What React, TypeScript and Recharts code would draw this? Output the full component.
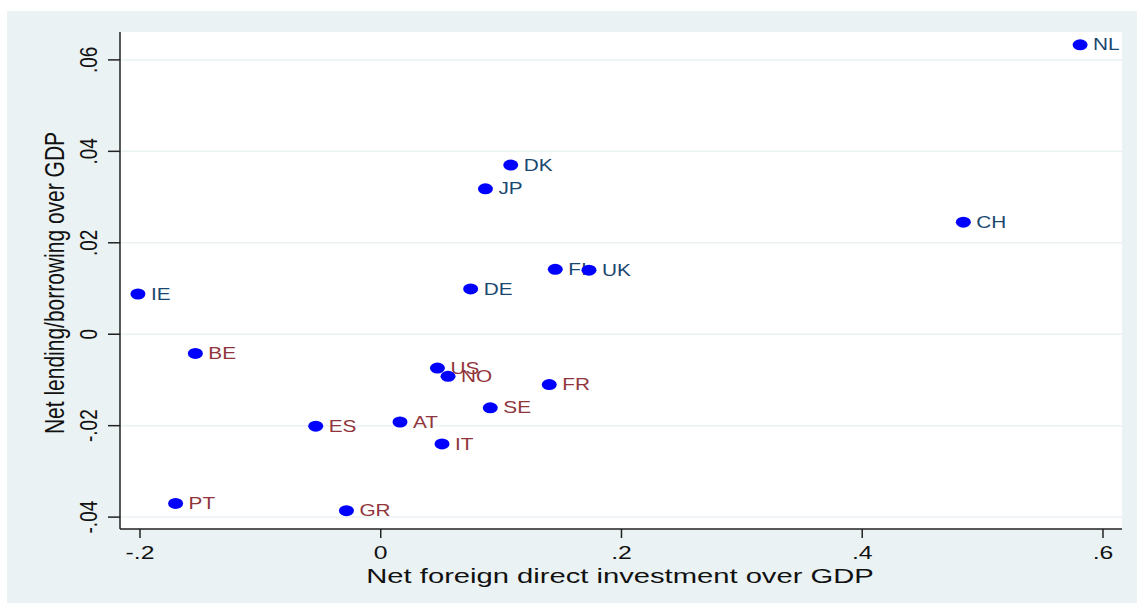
import { ScatterChart, Scatter, XAxis, YAxis, CartesianGrid } from "recharts";

const countries = ["NL", "DK", "JP", "CH", "FI", "UK", "IE", "DE", "BE", "US", "NO", "FR", "SE", "AT", "ES", "IT", "PT", "GR"];
const fdi = [0.581, 0.108, 0.087, 0.484, 0.145, 0.173, -0.2017, 0.0747, -0.154, 0.0471, 0.0559, 0.14, 0.091, 0.016, -0.054, 0.0509, -0.1704, -0.0285];
const netLending = [0.0633, 0.037, 0.0318, 0.0245, 0.0142, 0.014, 0.0088, 0.0099, -0.0042, -0.0074, -0.0092, -0.011, -0.0161, -0.0192, -0.0201, -0.024, -0.037, -0.0386];

const xTicks = [-0.2, 0, 0.2, 0.4, 0.6];
const xTickLabels = ["-.2", "0", ".2", ".4", ".6"];
const yTicks = [-0.04, -0.02, 0, 0.02, 0.04, 0.06];
const yTickLabels = ["-.04", "-.02", "0", ".02", ".04", ".06"];

const data = countries.map((c, i) => ({ name: c, x: fdi[i], y: netLending[i] }));

const FONT = "'Liberation Sans', Arial, Helvetica, sans-serif";
const STRETCH = 1.3;
const BG = "#eaf2f3";

function Marker(props: any) {
  const { cx, cy, payload } = props;
  const color = payload.y < 0 ? "#90353b" : "#1a476f";
  return (
    <g>
      <ellipse cx={cx} cy={cy} rx={7.5} ry={5.5} fill="#0000ff" />
      <text
        transform={`translate(${cx + 13},${cy}) scale(${STRETCH},1)`}
        dominantBaseline="central"
        fontSize={16}
        fontFamily={FONT}
        fill={color}
      >
        {payload.name}
      </text>
    </g>
  );
}

function XTick(props: any) {
  const { x, y, payload } = props;
  const i = xTicks.indexOf(payload.value);
  return (
    <text
      transform={`translate(${x},${y + 19}) scale(${STRETCH},1)`}
      textAnchor="middle"
      fontSize={19}
      fontFamily={FONT}
      fill="#111"
    >
      {xTickLabels[i] ?? payload.value}
    </text>
  );
}

function YTick(props: any) {
  const { x, y, payload } = props;
  const i = yTicks.indexOf(payload.value);
  return (
    <text
      transform={`translate(${x},${y}) scale(${STRETCH},1) rotate(-90)`}
      textAnchor="middle"
      fontSize={19}
      fontFamily={FONT}
      fill="#111"
    >
      {yTickLabels[i] ?? payload.value}
    </text>
  );
}

export default function App() {
  return (
    <div style={{ position: "absolute", left: 0, top: 0, width: 1137, height: 603, background: "#fff" }}>
      <div style={{ position: "absolute", left: 7, top: 11, width: 1130, height: 592, background: BG }} />
      <div style={{ position: "absolute", left: 0, top: 0 }}>
        <ScatterChart width={1137} height={603} margin={{ top: 32, right: 15, bottom: 24, left: 40 }}>
          <CartesianGrid vertical={false} fill="#fff" stroke={BG} strokeWidth={1.5} horizontalValues={yTicks} />
          <XAxis
            type="number"
            dataKey="x"
            domain={[-0.2166, 0.6158]}
            ticks={xTicks}
            allowDataOverflow
            height={50}
            tickSize={9}
            tickMargin={2}
            tick={<XTick />}
            axisLine={{ stroke: "#222", strokeWidth: 1.5 }}
            tickLine={{ stroke: "#222", strokeWidth: 1.5 }}
            label={{
              content: () => (
                <text
                  transform={`translate(620,583) scale(1.39,1)`}
                  textAnchor="middle"
                  fontSize={21}
                  fontFamily={FONT}
                  fill="#111"
                >
                  Net foreign direct investment over GDP
                </text>
              ),
            }}
          />
          <YAxis
            type="number"
            dataKey="y"
            domain={[-0.0426, 0.0661]}
            ticks={yTicks}
            allowDataOverflow
            width={80}
            tickSize={12}
            tickMargin={11}
            tick={<YTick />}
            axisLine={{ stroke: "#222", strokeWidth: 1.5 }}
            tickLine={{ stroke: "#222", strokeWidth: 1.5 }}
            label={{
              content: () => (
                <text
                  transform={`translate(64,283) scale(${STRETCH},1) rotate(-90)`}
                  textAnchor="middle"
                  fontSize={21}
                  fontFamily={FONT}
                  fill="#111"
                >
                  Net lending/borrowing over GDP
                </text>
              ),
            }}
          />
          <Scatter data={data} shape={<Marker />} isAnimationActive={false} />
        </ScatterChart>
      </div>
    </div>
  );
}
